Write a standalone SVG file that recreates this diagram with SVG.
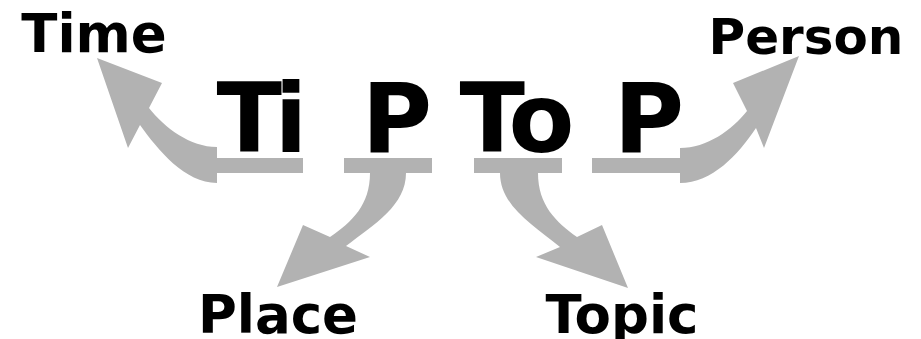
<svg xmlns="http://www.w3.org/2000/svg" width="921" height="339" viewBox="0 0 921 339">
<style>
  .lbl { font-family: "DejaVu Sans", Verdana, sans-serif; font-weight: bold; fill: #000; text-anchor: middle; }
  .big { font-size: 96px; }
  .small { font-size: 53px; }
  .arrow { fill: #b2b2b2; stroke: none; }
</style>
<rect width="921" height="339" fill="#fff"/>
<g id="connectors">
  <path id="arrow-time" class="arrow" d="M 303 158 L 217 158 L 217 147 C 190 147 165 128 149 108 L 162 83 L 97 58 L 128 148 L 140 125 C 158 150 185 183 217 183 L 217 173 L 303 173 Z"/>
  <path id="arrow-place" class="arrow" d="M 344 158 L 432 158 L 432 173 L 406 173 C 406 205 375 224 346 246 L 370 257 L 277 287 L 303 225 L 330 237 C 352 222 370 205 370 173 L 344 173 Z"/>
  <path id="arrow-topic" class="arrow" d="M 474 158 L 562 158 L 562 173 L 538 173 C 538 205 556 222 577 237 L 602 225 L 628 288 L 536 257 L 560 247 C 531 224 500 205 500 173 L 474 173 Z"/>
  <path id="arrow-person" class="arrow" d="M 592 158 L 680 158 L 680 148 C 707 148 732 130 747 111 L 733 83 L 799 56 L 764 148 L 756 128 C 738 155 712 183 680 183 L 680 173 L 592 173 Z"/>
</g>
<g id="node-ti"><text class="lbl big" x="262" y="152" textLength="91" lengthAdjust="spacing">Ti</text></g>
<g id="node-p1"><text class="lbl big" x="397" y="152">P</text></g>
<g id="node-to"><text class="lbl big" x="517" y="152" textLength="115" lengthAdjust="spacing">To</text></g>
<g id="node-p2"><text class="lbl big" x="649" y="152">P</text></g>
<g id="node-time"><text class="lbl small" x="94" y="52">Time</text></g>
<g id="node-person"><text class="lbl small" x="806" y="54" style="font-size:50px">Person</text></g>
<g id="node-place"><text class="lbl small" x="278" y="333">Place</text></g>
<g id="node-topic"><text class="lbl small" x="622" y="333">Topic</text></g>
</svg>
